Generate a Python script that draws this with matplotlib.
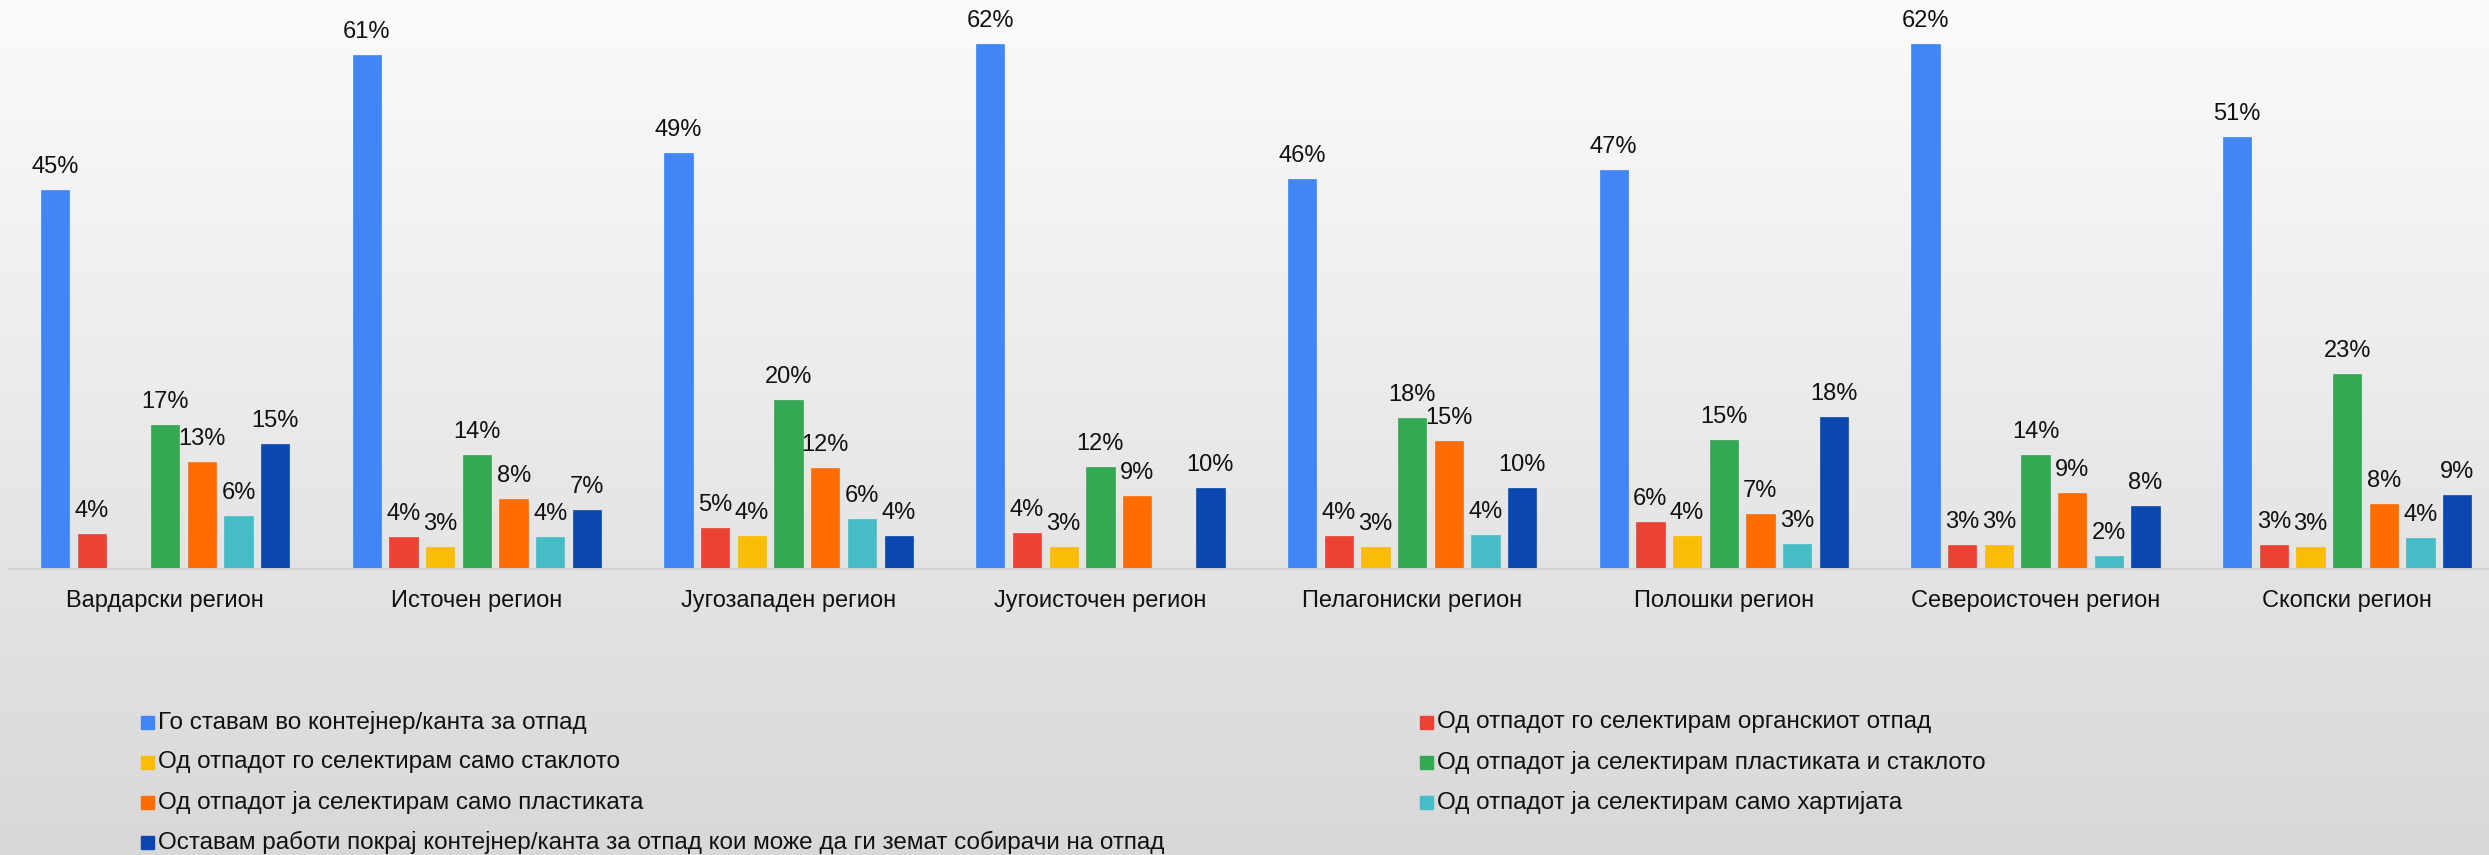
import matplotlib
matplotlib.use("Agg")
import matplotlib.pyplot as plt
from matplotlib.patches import Rectangle
import numpy as np

plt.rcParams["font.family"] = ["Liberation Sans", "DejaVu Sans"]

regions = ["Вардарски регион", "Источен регион", "Југозападен регион", "Југоисточен регион",
           "Пелагониски регион", "Полошки регион", "Североисточен регион", "Скопски регион"]

series_names = [
    "Го ставам во контејнер/канта за отпад",
    "Од отпадот го селектирам органскиот отпад",
    "Од отпадот го селектирам само стаклото",
    "Од отпадот ја селектирам пластиката и стаклото",
    "Од отпадот ја селектирам само пластиката",
    "Од отпадот ја селектирам само хартијата",
    "Оставам работи покрај контејнер/канта за отпад кои може да ги земат собирачи на отпад",
]

# percentages per region (None = no answer shown)
container = [45.0, 61.1, 49.4, 62.4, 46.4, 47.4, 62.4, 51.4]
organic = [4.2, 3.8, 4.9, 4.3, 4.0, 5.6, 2.9, 2.9]
glass = [None, 2.6, 3.9, 2.6, 2.7, 3.9, 2.9, 2.6]
plastic_glass = [17.1, 13.6, 20.1, 12.2, 18.0, 15.4, 13.6, 23.2]
plastic = [12.8, 8.3, 12.0, 8.7, 15.2, 6.6, 9.1, 7.7]
paper = [6.3, 3.8, 6.0, None, 4.1, 3.0, 1.6, 3.7]
beside = [14.9, 7.1, 3.9, 9.6, 9.6, 18.1, 7.5, 8.8]

series = [container, organic, glass, plastic_glass, plastic, paper, beside]
colors = ["#4285f4", "#ea4335", "#fbbc04", "#34a853", "#ff6d01", "#46bdc6", "#0b47ae"]

W, H = 2489, 855
fig = plt.figure(figsize=(W / 100, H / 100), dpi=100)

# background gradient
bg = fig.add_axes([0, 0, 1, 1], zorder=0)
grad = np.linspace(251, 216, 256).reshape(-1, 1) / 255
bg.imshow(np.dstack([grad, grad, grad]), aspect="auto", extent=[0, 1, 0, 1])
bg.set_axis_off()

base_y = 569.3
px_per_pct = 8.42
ymax = 66
ax = fig.add_axes([9.4 / W, (H - base_y) / H, 8 * 311.7 / W, ymax * px_per_pct / H], zorder=1)
ax.patch.set_alpha(0)

x = np.arange(len(regions))
step, width = 0.1177, 0.0908
for j, (vals, c) in enumerate(zip(series, colors)):
    for i, v in enumerate(vals):
        if v is None:
            continue
        xi = x[i] + (j - 3) * step
        ax.bar(xi, v, width=width, color=c, edgecolor=c, linewidth=0.5)
        ax.annotate(f"{round(v)}%", (xi, v), xytext=(0, 12), textcoords="offset pixels",
                    ha="center", va="bottom", fontsize=17, color="#111111", annotation_clip=False)

ax.set_xlim(-0.5, 7.5)
ax.set_ylim(0, ymax)
ax.set_yticks([])
ax.set_xticks(x)
ax.set_xticklabels(regions, fontsize=17, color="#111111")
ax.tick_params(axis="x", length=0, pad=15)
for s in ["top", "left", "right"]:
    ax.spines[s].set_visible(False)
ax.spines["bottom"].set_color("#d2d2d2")
ax.spines["bottom"].set_linewidth(1.4)

# legend in two columns
col_x = [141, 1420]
row_y0, row_dy, sq = 722.3, 40, 12.7
for k, (name, c) in enumerate(zip(series_names, colors)):
    col, row = k % 2, k // 2
    cy = row_y0 + row * row_dy
    fig.patches.append(Rectangle((col_x[col] / W, (H - cy - sq / 2) / H), sq / W, sq / H,
                                 transform=fig.transFigure, color=c, zorder=3))
    fig.text((col_x[col] + sq + 4.5) / W, (H - cy) / H, name, fontsize=17.5, color="#111111",
             ha="left", va="center", zorder=3)

fig.savefig("out.png", dpi=100)
